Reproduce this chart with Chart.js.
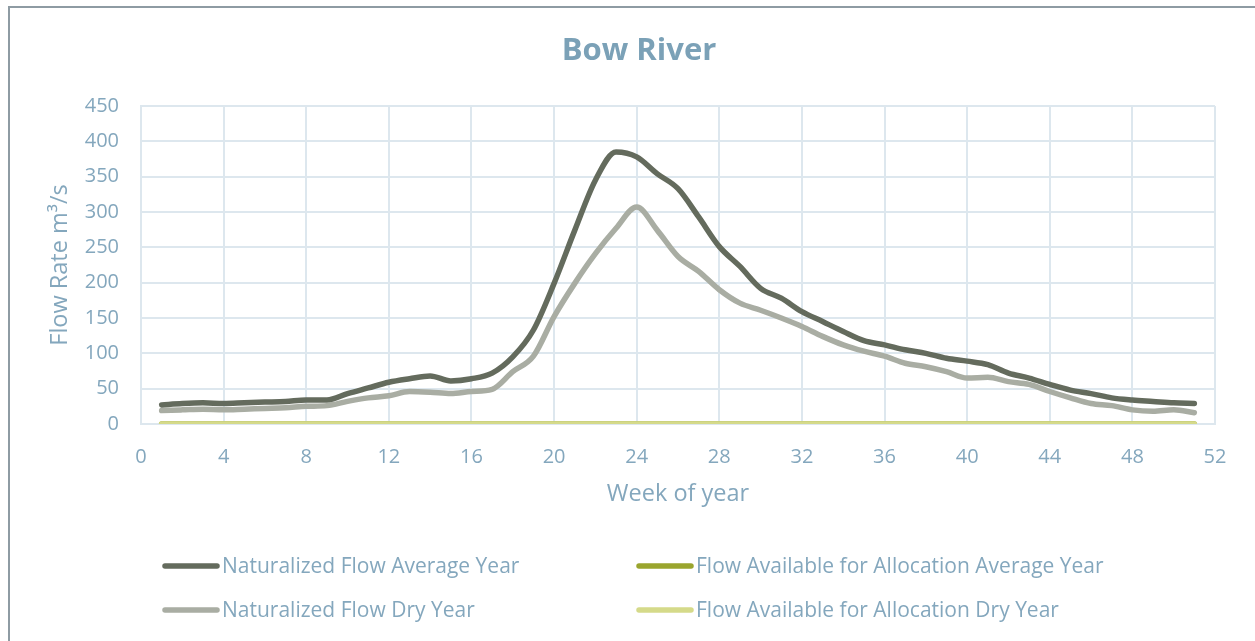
<!DOCTYPE html>
<html><head><meta charset="utf-8">
<script src="https://cdn.jsdelivr.net/npm/chart.js@4/dist/chart.umd.min.js"></script>
<style>
html,body{margin:0;padding:0;background:#fff;}
#wrap{position:relative;width:1255px;height:641px;overflow:hidden;}
#frameTop{position:absolute;left:8px;top:6px;width:1247px;height:2px;background:#8e9ba3;}
#frameLeft{position:absolute;left:8px;top:6px;width:2px;height:635px;background:#8e9ba3;}
canvas{position:absolute;left:0;top:0;}
</style></head>
<body><div id="wrap"><canvas id="c" width="1255" height="641"></canvas><div id="frameTop"></div><div id="frameLeft"></div></div>
<script>
const weeks = [1,2,3,4,5,6,7,8,9,10,11,12,13,14,15,16,17,18,19,20,21,22,23,24,25,26,27,28,29,30,31,32,33,34,35,36,37,38,39,40,41,42,43,44,45,46,47,48,49,50,51];
const naturalizedAverage = [27,29,30,29,30,31,32,34,34,43,51,59,64,68,61,64,72,95,133,199,274,345,385,378,354,333,293,251,223,192,178,159,145,131,118,112,105,100,93,89,84,72,65,56,48,43,37,34,32,30,29];
const naturalizedDry = [19,20,21,20,21,22,23,25,26,32,37,40,46,45,43,46,49,74,96,152,199,241,277,307,274,237,216,190,171,161,150,138,124,112,103,96,86,81,74,65,66,60,56,46,37,29,26,20,18,20,16];
const allocationAverage = [0,0,0,0,0,0,0,0,0,0,0,0,0,0,0,0,0,0,0,0,0,0,0,0,0,0,0,0,0,0,0,0,0,0,0,0,0,0,0,0,0,0,0,0,0,0,0,0,0,0,0];
const allocationDry = [0,0,0,0,0,0,0,0,0,0,0,0,0,0,0,0,0,0,0,0,0,0,0,0,0,0,0,0,0,0,0,0,0,0,0,0,0,0,0,0,0,0,0,0,0,0,0,0,0,0,0];
const xTicks = [0,4,8,12,16,20,24,28,32,36,40,44,48,52];
const yTicks = [0,50,100,150,200,250,300,350,400,450];

const txt = '#84a7bd';
const ptsOf = arr => weeks.map((w,i)=>({x:w,y:arr[i]}));

const overlay = {
  id:'overlay',
  afterDraw(chart){
    const ctx = chart.ctx, a = chart.chartArea;
    ctx.save();
    ctx.fillStyle = '#7ba1b7';
    ctx.font = 'bold 31px "Open Sans"';
    ctx.textAlign='center'; ctx.textBaseline='middle';
    ctx.fillText('Bow River', 639, 51);
    ctx.fillStyle = txt;
    ctx.font = '23.5px "Open Sans"';
    ctx.fillText('Week of year', (a.left+a.right)/2, 494);
    ctx.save();
    ctx.translate(60,(a.top+a.bottom)/2);
    ctx.rotate(-Math.PI/2);
    ctx.fillText('Flow Rate m\u00b3/s', 0, 0);
    ctx.restore();
    // legend
    const ds = chart.data.datasets;
    const order = [[0,163,566],[2,637,566],[1,163,610],[3,637,610]];
    ctx.font = '21px "Open Sans"';
    ctx.textAlign='left';
    order.forEach(([i,x,y])=>{
      ctx.strokeStyle = ds[i].borderColor; ctx.lineWidth=5.5; ctx.lineCap='round';
      ctx.beginPath(); ctx.moveTo(x+2,y); ctx.lineTo(x+54,y); ctx.stroke();
      ctx.fillStyle = txt;
      ctx.fillText(ds[i].label, x+59, y+1);
    });
    ctx.restore();
  }
};

new Chart(document.getElementById('c'), {
  type:'line',
  data:{datasets:[
    {label:'Naturalized Flow Average Year', data:ptsOf(naturalizedAverage), borderColor:'#646b5d', order:2},
    {label:'Naturalized Flow Dry Year', data:ptsOf(naturalizedDry), borderColor:'#a9ada3', order:3},
    {label:'Flow Available for Allocation Average Year', data:ptsOf(allocationAverage), borderColor:'#9aa52e', order:1},
    {label:'Flow Available for Allocation Dry Year', data:ptsOf(allocationDry), borderColor:'#d5da8a', order:0}
  ]},
  options:{
    responsive:false, animation:false,
    layout:{padding:{left:0,top:106,right:40,bottom:0}},
    elements:{point:{radius:0}, line:{borderWidth:5.5, tension:0.4, cubicInterpolationMode:'monotone', borderCapStyle:'round', borderJoinStyle:'round'}},
    plugins:{legend:{display:false}, title:{display:false}, tooltip:{enabled:false}},
    scales:{
      x:{type:'linear', min:0, max:52,
        afterBuildTicks(s){ s.ticks = xTicks.map(v=>({value:v})); },
        afterFit(s){ s.height = 641-424; },
        grid:{color:'#dde7ee', lineWidth:2, drawTicks:false},
        border:{color:'#dde7ee', width:2},
        ticks:{color:txt, font:{family:'"Open Sans"', size:20}, padding:21, maxRotation:0}
      },
      y:{min:0, max:450,
        afterBuildTicks(s){ s.ticks = yTicks.map(v=>({value:v})); },
        afterFit(s){ s.width = 141; },
        grid:{color:'#dde7ee', lineWidth:2, drawTicks:false},
        border:{color:'#dde7ee', width:2},
        ticks:{color:txt, font:{family:'"Open Sans"', size:20}, padding:22}
      }
    }
  },
  plugins:[overlay]
});
</script></body></html>
